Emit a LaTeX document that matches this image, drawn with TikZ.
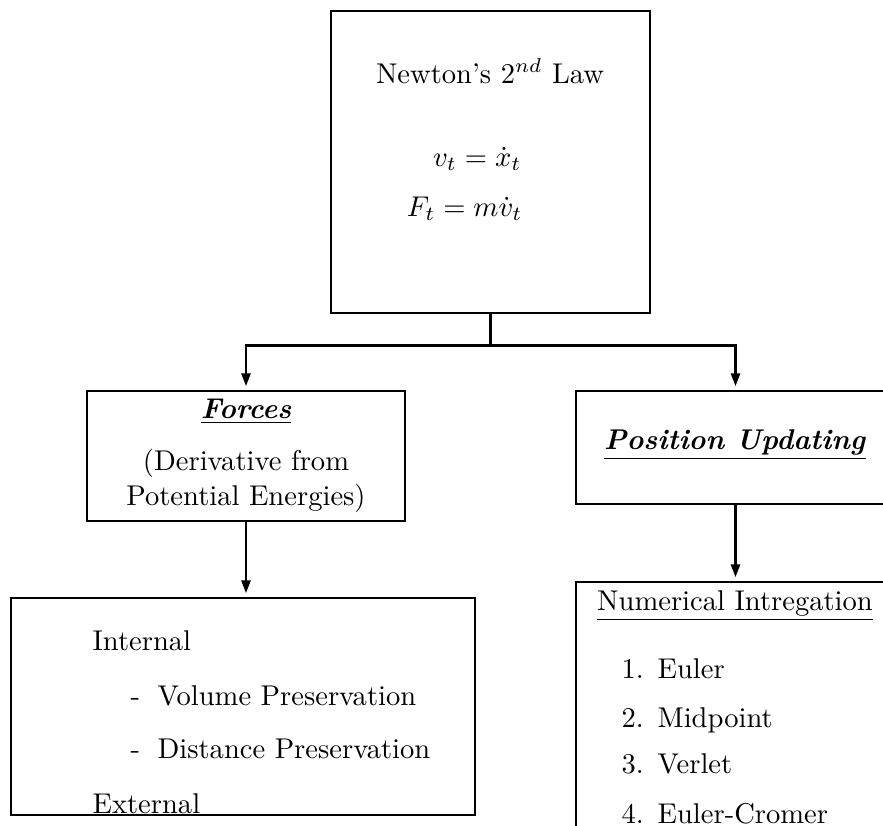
\documentclass[tikz,border=0pt]{standalone}
\usetikzlibrary{arrows.meta,fit}
\begin{document}
\begin{tikzpicture}[x=0.35pt,y=-0.35pt,
  box/.style={draw,line width=1pt,inner sep=0pt},
  conn/.style={line width=0.8pt},
  arr/.style={conn,-{Triangle[length=4.5pt,width=3.2pt]},shorten >=1.2pt},
  txt/.style={inner sep=0pt,anchor=base},
  txtl/.style={inner sep=0pt,anchor=base west}]
\useasboundingbox (0,0) rectangle (883,825);
\clip (0,0) rectangle (883,825);
% boxes
\node[box,fit={(331,11)(650,313)}] (newton) {};
\node[box,fit={(87,391)(405,521)}] (forces) {};
\node[box,fit={(576,391)(895,504)}] (pos) {};
\node[box,fit={(11,598)(475,815)}] (ext) {};
\node[box,fit={(576,582)(895,845)}] (num) {};
% top box text
\node[txt] (t1) at (490,83) {Newton's $2^{nd}$ Law};
\node[txt,anchor=base east] (t2) at (522,166) {$v_t = \dot{x}_t$};
\node[txt,anchor=base east] (t3) at (523,216) {$F_t = m\dot{v}_t$};
% forces text
\node[txt] (f1) at (246,418) {\underline{\textbf{\textit{Forces}}}};
\node[txt] (f2) at (246,470) {(Derivative from};
\node[txt] (f3) at (246,505) {Potential Energies)};
% position text
\node[txt] (p1) at (735,449) {\underline{\textbf{\textit{Position Updating}}}};
% internal/external
\node[txtl] (e1) at (92,650) {Internal};
\node[txtl] (e2a) at (130,705) {-};
\node[txtl] (e2) at (157,705) {Volume Preservation};
\node[txtl] (e3a) at (130,758) {-};
\node[txtl] (e3) at (157,758) {Distance Preservation};
\node[txtl] (e4) at (92,813) {External};
% numerical
\node[txt] (n0) at (735,610) {\underline{Numerical Intregation}};
\node[txtl] (n1a) at (621,678) {1.};
\node[txtl] (n1) at (657,678) {Euler};
\node[txtl] (n2a) at (621,727) {2.};
\node[txtl] (n2) at (657,727) {Midpoint};
\node[txtl] (n3a) at (621,773) {3.};
\node[txtl] (n3) at (657,773) {Verlet};
\node[txtl] (n4a) at (621,823) {4.};
\node[txtl] (n4) at (657,823) {Euler-Cromer};
% connectors
\draw[arr] (newton.south) -- ++(0,31) -| (forces.north);
\draw[arr] (newton.south) -- ++(0,31) -| (pos.north);
\draw[arr] (forces.south) -- (forces.south |- ext.north);
\draw[arr] (pos.south) -- (pos.south |- num.north);
\end{tikzpicture}
\end{document}
